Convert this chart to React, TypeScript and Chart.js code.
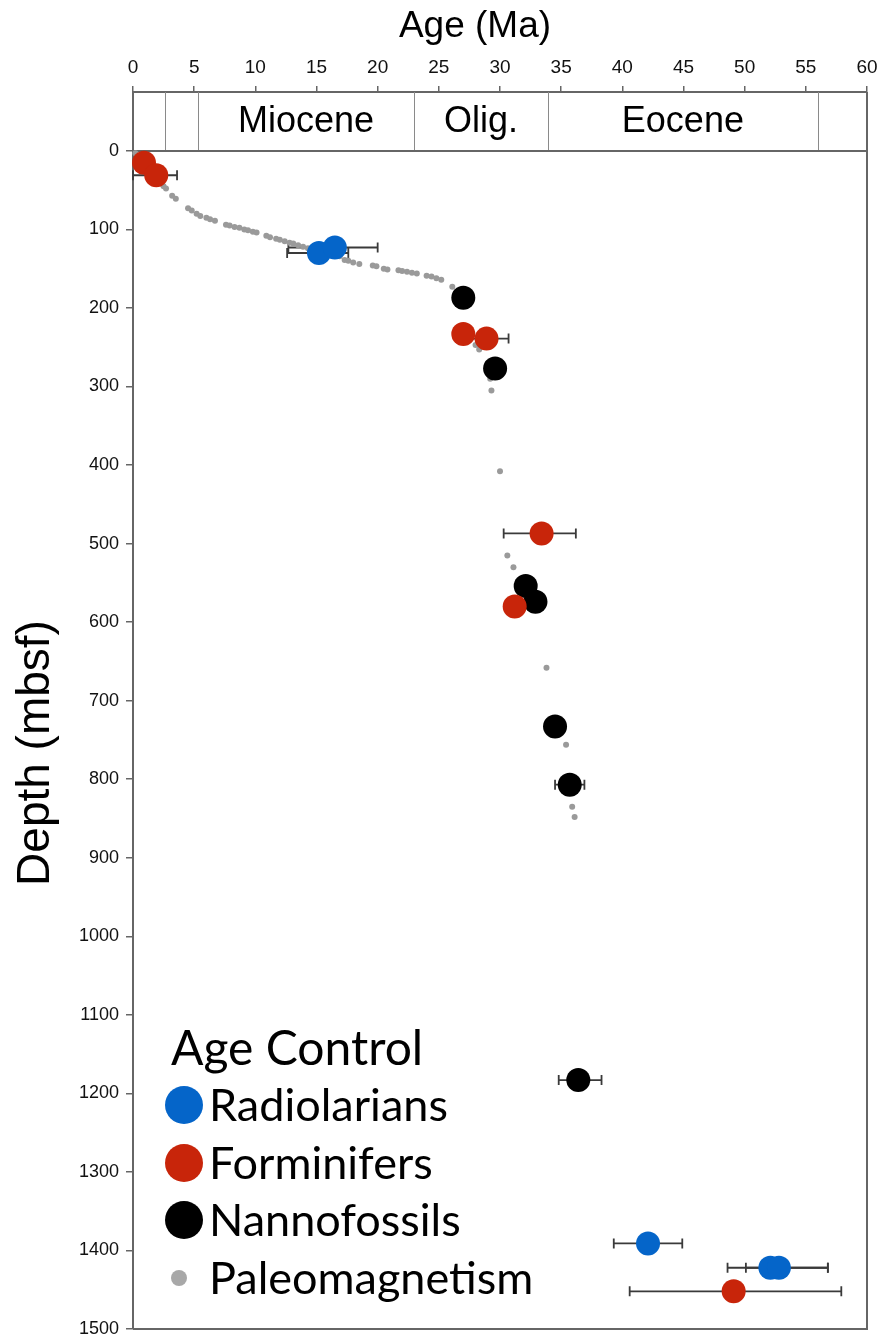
import React, { useEffect, useRef } from 'react';
import { Chart, registerables } from 'chart.js';

Chart.register(...registerables);

// ---- axis ticks ----
const xTickValues = [0, 5, 10, 15, 20, 25, 30, 35, 40, 45, 50, 55, 60];
const yTickValues = [0, 100, 200, 300, 400, 500, 600, 700, 800, 900, 1000, 1100, 1200, 1300, 1400, 1500];

// ---- epoch band ----
const epochBounds = [2.6, 5.3, 23.0, 33.9, 56.0];
const epochNames = ['Miocene', 'Olig.', 'Eocene'];
const epochStart = [5.3, 23.0, 33.9];
const epochEnd = [23.0, 33.9, 56.0];
const bandTopDepth = -75;

// ---- Radiolarians ----
const radioAge = [15.2, 16.5, 42.1, 52.1, 52.8];
const radioDepth = [130, 123, 1391, 1422, 1422];
const radioErrMin = [12.6, 12.7, 39.3, 48.6, 50.1];
const radioErrMax = [17.6, 20.0, 44.9, 56.8, 56.8];

// ---- Forminifers ----
const foramAge = [0.9, 1.9, 27.0, 28.9, 33.4, 31.2, 49.1];
const foramDepth = [15, 31, 233, 239, 487, 580, 1452];
const foramErrMin: (number | null)[] = [null, 0.0, null, 27.1, 30.3, null, 40.6];
const foramErrMax: (number | null)[] = [null, 3.6, null, 30.7, 36.2, null, 57.9];

// ---- Nannofossils ----
const nannoAge = [27.0, 29.6, 32.1, 32.9, 34.5, 35.7, 36.4];
const nannoDepth = [187, 277, 554, 574, 733, 807, 1183];
const nannoErrMin: (number | null)[] = [null, null, null, null, null, 34.5, 34.8];
const nannoErrMax: (number | null)[] = [null, null, null, null, null, 36.9, 38.3];

// ---- Paleomagnetism ----
const paleoAge = [
  0.2, 0.5, 1.0, 1.4, 2.2, 2.5, 2.7, 3.2, 3.5, 4.5, 4.8, 5.2, 5.5, 6.0, 6.3, 6.7,
  7.6, 7.9, 8.3, 8.7, 9.1, 9.4, 9.8, 10.1, 10.9, 11.2, 11.7, 12.0, 12.4, 12.8, 13.1,
  13.5, 13.9, 14.3, 16.3, 16.9, 17.3, 17.6, 18.0, 18.5, 19.6, 19.9, 20.5, 20.8, 21.7,
  22.0, 22.4, 22.8, 23.2, 24.0, 24.4, 24.8, 25.2, 26.1, 28.0, 28.3, 29.0, 29.2, 29.3,
  30.0, 30.6, 31.1, 33.8, 35.4, 35.9, 36.1,
];
const paleoDepth = [
  3, 8, 18, 25, 38, 45, 48, 57, 61, 73, 76, 80, 83, 85, 87, 89,
  94, 95, 97, 98, 100, 101, 103, 104, 108, 110, 112, 113, 115, 117, 118,
  120, 122, 124, 132, 134, 139, 140, 142, 144, 146, 147, 150, 151, 152,
  153, 154, 155, 156, 159, 160, 162, 164, 173, 247, 253, 270, 290, 305,
  408, 515, 530, 658, 756, 835, 848,
];

// ---- legend ----
const legendTitle = 'Age Control';
const legendLabels = ['Radiolarians', 'Forminifers', 'Nannofossils', 'Paleomagnetism'];
const legendColors = ['#0565c9', '#c8250a', '#000000', '#a8a8a8'];

const BLUE = '#0565c9';
const RED = '#c8250a';
const BLACK = '#000000';
const GRAY = '#9a9a9a';
const AXIS = '#666666';
const SANS = "'Liberation Sans', Arial, Helvetica, sans-serif";
const LEG = "Lato, 'Open Sans', sans-serif";

const toPts = (xs: number[], ys: number[]) => xs.map((v, i) => ({ x: v, y: ys[i] }));

const decorPlugin = {
  id: 'decor',
  beforeDatasetsDraw(chart: any) {
    const { ctx, chartArea, scales } = chart;
    const x = scales.x;
    const y = scales.y;
    ctx.save();
    // band
    const yTop = y.getPixelForValue(bandTopDepth);
    const y0 = y.getPixelForValue(0);
    ctx.strokeStyle = '#8a8a8a';
    ctx.lineWidth = 1;
    epochBounds.forEach((b) => {
      const px = Math.round(x.getPixelForValue(b)) + 0.5;
      ctx.beginPath();
      ctx.moveTo(px, yTop);
      ctx.lineTo(px, y0);
      ctx.stroke();
    });
    ctx.strokeStyle = AXIS;
    ctx.lineWidth = 2;
    ctx.beginPath();
    ctx.moveTo(chartArea.left, y0);
    ctx.lineTo(chartArea.right, y0);
    ctx.stroke();
    ctx.fillStyle = '#000';
    ctx.font = `36px ${SANS}`;
    ctx.textAlign = 'center';
    ctx.textBaseline = 'middle';
    epochNames.forEach((n, i) => {
      const cx = (x.getPixelForValue(epochStart[i]) + x.getPixelForValue(epochEnd[i])) / 2;
      ctx.fillText(n, cx, (yTop + y0) / 2 + 1);
    });
    // error bars
    ctx.strokeStyle = '#3a3a3a';
    ctx.lineWidth = 1.8;
    const bars = (ages: number[], depths: number[], mins: (number | null)[], maxs: (number | null)[]) => {
      ages.forEach((_, i) => {
        const lo = mins[i];
        const hi = maxs[i];
        if (lo == null || hi == null) return;
        const py = y.getPixelForValue(depths[i]);
        const x1 = x.getPixelForValue(lo);
        const x2 = x.getPixelForValue(hi);
        ctx.beginPath();
        ctx.moveTo(x1, py);
        ctx.lineTo(x2, py);
        ctx.moveTo(x1, py - 5);
        ctx.lineTo(x1, py + 5);
        ctx.moveTo(x2, py - 5);
        ctx.lineTo(x2, py + 5);
        ctx.stroke();
      });
    };
    bars(radioAge, radioDepth, radioErrMin, radioErrMax);
    bars(foramAge, foramDepth, foramErrMin, foramErrMax);
    bars(nannoAge, nannoDepth, nannoErrMin, nannoErrMax);
    ctx.restore();
  },
  afterDraw(chart: any) {
    const { ctx, chartArea, scales } = chart;
    const y = scales.y;
    ctx.save();
    // right and bottom borders
    ctx.strokeStyle = AXIS;
    ctx.lineWidth = 2;
    ctx.beginPath();
    ctx.moveTo(chartArea.right, y.getPixelForValue(bandTopDepth));
    ctx.lineTo(chartArea.right, chartArea.bottom);
    ctx.lineTo(chartArea.left, chartArea.bottom);
    ctx.stroke();
    // axis titles
    ctx.fillStyle = '#000';
    ctx.textAlign = 'center';
    ctx.textBaseline = 'middle';
    ctx.font = `37px ${SANS}`;
    ctx.fillText('Age (Ma)', 475, 27);
    ctx.save();
    ctx.translate(36, 753);
    ctx.rotate(-Math.PI / 2);
    ctx.font = `46px ${SANS}`;
    ctx.fillText('Depth (mbsf)', 0, 0);
    ctx.restore();
    // legend
    ctx.textAlign = 'left';
    ctx.font = `48px ${LEG}`;
    ctx.fillText(legendTitle, 171, 1050);
    const rows = [1105, 1163, 1220, 1278];
    ctx.font = `45px ${LEG}`;
    legendLabels.forEach((lab, i) => {
      ctx.fillStyle = legendColors[i];
      ctx.beginPath();
      if (i === 3) ctx.arc(179, rows[i], 8, 0, Math.PI * 2);
      else ctx.arc(184, rows[i], 19, 0, Math.PI * 2);
      ctx.fill();
      ctx.fillStyle = '#000';
      ctx.fillText(lab, 209, rows[i] + 1);
    });
    ctx.restore();
  },
};

export default function App() {
  const ref = useRef<HTMLCanvasElement | null>(null);
  useEffect(() => {
    document.body.style.margin = '0';
    const canvas = ref.current;
    if (!canvas) return;
    const zeroPad = (s: any) => {
      s.paddingLeft = 0;
      s.paddingRight = 0;
      s.paddingTop = 0;
      s.paddingBottom = 0;
    };
    const chart = new Chart(canvas, {
      type: 'scatter',
      data: {
        datasets: [
          {
            label: 'Radiolarians',
            data: toPts(radioAge, radioDepth),
            backgroundColor: BLUE,
            borderWidth: 0,
            pointRadius: 12,
            order: 1,
            clip: false,
          },
          {
            label: 'Forminifers',
            data: toPts(foramAge, foramDepth),
            backgroundColor: RED,
            borderWidth: 0,
            pointRadius: 12,
            order: 2,
            clip: false,
          },
          {
            label: 'Nannofossils',
            data: toPts(nannoAge, nannoDepth),
            backgroundColor: BLACK,
            borderWidth: 0,
            pointRadius: 12,
            order: 3,
            clip: false,
          },
          {
            label: 'Paleomagnetism',
            data: toPts(paleoAge, paleoDepth),
            backgroundColor: GRAY,
            borderWidth: 0,
            pointRadius: 3,
            order: 4,
            clip: false,
          },
        ],
      },
      options: {
        animation: false,
        responsive: false,
        devicePixelRatio: 1,
        layout: { padding: { top: 0, left: 0, right: 14, bottom: 9 } },
        plugins: { legend: { display: false }, tooltip: { enabled: false } },
        scales: {
          x: {
            type: 'linear',
            position: 'top',
            min: 0,
            max: 60,
            afterBuildTicks: (axis: any) => {
              axis.ticks = xTickValues.map((v) => ({ value: v }));
            },
            afterFit: (s: any) => {
              s.height = 92;
              zeroPad(s);
            },
            grid: { drawOnChartArea: false, drawTicks: true, tickLength: 6, color: AXIS, lineWidth: 1.5 },
            border: { display: true, color: AXIS, width: 2 },
            ticks: {
              padding: 7,
              maxRotation: 0,
              autoSkip: false,
              color: '#111',
              font: { family: SANS, size: 19 },
              callback: (v: any) => String(v),
            },
          },
          y: {
            type: 'linear',
            reverse: true,
            min: bandTopDepth,
            max: 1500,
            afterBuildTicks: (axis: any) => {
              axis.ticks = yTickValues.map((v) => ({ value: v }));
            },
            afterFit: (s: any) => {
              s.width = 133;
              zeroPad(s);
            },
            grid: { drawOnChartArea: false, drawTicks: true, tickLength: 7, color: AXIS, lineWidth: 1.5 },
            border: { display: true, color: AXIS, width: 2 },
            ticks: {
              padding: 7,
              autoSkip: false,
              color: '#111',
              font: { family: SANS, size: 18 },
              callback: (v: any) => String(v),
            },
          },
        },
      },
      plugins: [decorPlugin],
    });
    return () => chart.destroy();
  }, []);
  return (
    <div style={{ width: 881, height: 1341, background: '#fff' }}>
      <canvas ref={ref} width={881} height={1341} style={{ display: 'block' }} />
    </div>
  );
}
